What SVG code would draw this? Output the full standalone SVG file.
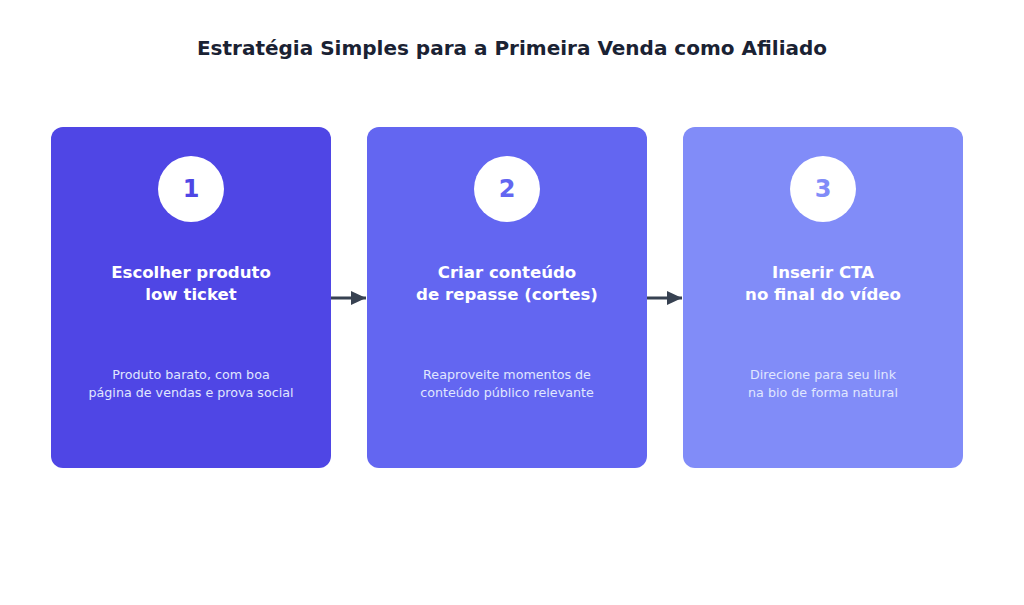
<svg xmlns="http://www.w3.org/2000/svg" width="1024" height="605" viewBox="0 0 1024 605">
<defs>
<style>
.title{font-family:"DejaVu Sans",sans-serif;font-weight:bold;font-size:20px;fill:#1a2233;text-anchor:middle}
.num{font-family:"DejaVu Sans",sans-serif;font-weight:bold;font-size:24px;text-anchor:middle}
.head{font-family:"DejaVu Sans",sans-serif;font-weight:bold;font-size:16.6px;fill:#ffffff;text-anchor:middle}
.desc{font-family:"DejaVu Sans",sans-serif;font-size:12.7px;fill:#E0E7FF;text-anchor:middle}
.conn{stroke:#374151;stroke-width:3;fill:none}
</style>
<marker id="ah" markerWidth="15" markerHeight="14" refX="15" refY="7" orient="auto" markerUnits="userSpaceOnUse">
<path d="M0,0 L15,7 L0,14 Z" fill="#374151"/>
</marker>
</defs>
<rect width="1024" height="605" fill="#ffffff"/>
<text class="title" x="512" y="55">Estratégia Simples para a Primeira Venda como Afiliado</text>
<g id="node1">
<rect x="51" y="127" width="280" height="341" rx="12" fill="#4F46E5"/>
<circle cx="191" cy="189" r="33" fill="#ffffff"/>
<text class="num" x="191" y="197" fill="#4F46E5">1</text>
<text class="head" x="191" y="278">Escolher produto</text>
<text class="head" x="191" y="300">low ticket</text>
<text class="desc" x="191" y="379">Produto barato, com boa</text>
<text class="desc" x="191" y="397">página de vendas e prova social</text>
</g>
<g id="node2">
<rect x="367" y="127" width="280" height="341" rx="12" fill="#6366F1"/>
<circle cx="507" cy="189" r="33" fill="#ffffff"/>
<text class="num" x="507" y="197" fill="#6366F1">2</text>
<text class="head" x="507" y="278">Criar conteúdo</text>
<text class="head" x="507" y="300">de repasse (cortes)</text>
<text class="desc" x="507" y="379">Reaproveite momentos de</text>
<text class="desc" x="507" y="397">conteúdo público relevante</text>
</g>
<g id="node3">
<rect x="683" y="127" width="280" height="341" rx="12" fill="#818CF8"/>
<circle cx="823" cy="189" r="33" fill="#ffffff"/>
<text class="num" x="823" y="197" fill="#818CF8">3</text>
<text class="head" x="823" y="278">Inserir CTA</text>
<text class="head" x="823" y="300">no final do vídeo</text>
<text class="desc" x="823" y="379">Direcione para seu link</text>
<text class="desc" x="823" y="397">na bio de forma natural</text>
</g>
<g id="connectors">
<line class="conn" x1="331" y1="298" x2="366" y2="298" marker-end="url(#ah)"/>
<line class="conn" x1="647" y1="298" x2="682" y2="298" marker-end="url(#ah)"/>
</g>
</svg>
